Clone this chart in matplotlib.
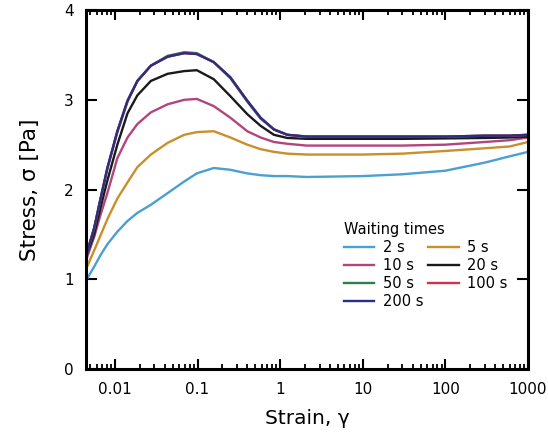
import matplotlib
matplotlib.use("Agg")
import matplotlib.pyplot as plt
from matplotlib.ticker import LogLocator, FixedLocator, FixedFormatter, NullFormatter

plt.rcParams["font.family"] = ["DejaVu Sans"]

# Strain values (shared grid) and stress for each waiting time
strain = [0.0045, 0.0056, 0.0067, 0.0081, 0.0107, 0.0142, 0.0187, 0.0272,
          0.0434, 0.069, 0.098, 0.157, 0.25, 0.40, 0.58, 0.84, 1.22, 2.1,
          10, 30, 100, 300, 600, 1000]

stress_2s = [0.99, 1.14, 1.27, 1.39, 1.53, 1.65, 1.74, 1.83, 1.96, 2.09, 2.18,
             2.24, 2.22, 2.18, 2.16, 2.15, 2.15, 2.14, 2.15, 2.17, 2.21, 2.30,
             2.37, 2.42]
stress_5s = [1.12, 1.32, 1.49, 1.67, 1.90, 2.08, 2.25, 2.39, 2.52, 2.61, 2.64,
             2.65, 2.58, 2.50, 2.45, 2.42, 2.40, 2.39, 2.39, 2.40, 2.43, 2.46,
             2.48, 2.53]
stress_10s = [1.22, 1.47, 1.72, 1.96, 2.35, 2.58, 2.73, 2.86, 2.95, 3.00, 3.01,
              2.93, 2.80, 2.65, 2.58, 2.53, 2.51, 2.49, 2.49, 2.49, 2.50, 2.53,
              2.55, 2.58]
stress_20s = [1.26, 1.50, 1.80, 2.10, 2.50, 2.85, 3.05, 3.21, 3.29, 3.32, 3.33,
              3.23, 3.04, 2.84, 2.71, 2.61, 2.575, 2.565, 2.565, 2.565, 2.57,
              2.575, 2.58, 2.59]
stress_50s = [1.27, 1.56, 1.89, 2.23, 2.64, 2.98, 3.21, 3.38, 3.49, 3.53, 3.52,
              3.42, 3.24, 2.98, 2.79, 2.67, 2.61, 2.59, 2.59, 2.59, 2.59, 2.60,
              2.60, 2.61]
stress_100s = [1.28, 1.57, 1.90, 2.24, 2.65, 2.99, 3.21, 3.38, 3.48, 3.52,
               3.51, 3.42, 3.25, 2.99, 2.80, 2.67, 2.61, 2.59, 2.59, 2.59, 2.59,
               2.60, 2.60, 2.61]
stress_200s = [1.27, 1.57, 1.90, 2.24, 2.65, 2.99, 3.21, 3.38, 3.48, 3.52,
               3.51, 3.42, 3.25, 2.99, 2.80, 2.67, 2.61, 2.59, 2.59, 2.59, 2.59,
               2.60, 2.60, 2.61]

labels = ["2 s", "5 s", "10 s", "20 s", "50 s", "100 s", "200 s"]
series = [stress_2s, stress_5s, stress_10s, stress_20s, stress_50s,
          stress_100s, stress_200s]
colors = ["#4a9fd4", "#c98f2c", "#b2457e", "#1a1a1a", "#2f7d52",
          "#d3304c", "#2b2f82"]

x_ticks = [0.01, 0.1, 1, 10, 100, 1000]
x_ticklabels = ["0.01", "0.1", "1", "10", "100", "1000"]
y_ticks = [0, 1, 2, 3, 4]

fig = plt.figure(figsize=(5.48, 4.38), dpi=100)
ax = fig.add_axes([0.157, 0.1575, 0.8065, 0.8195])

handles = {}
for lab, ys, c in zip(labels, series, colors):
    (h,) = ax.plot(strain, ys, color=c, lw=1.7, label=lab)
    handles[lab] = h

ax.set_xscale("log")
ax.set_xlim(0.00447, 1000)
ax.set_ylim(0, 4)

ax.xaxis.set_major_locator(FixedLocator(x_ticks))
ax.xaxis.set_major_formatter(FixedFormatter(x_ticklabels))
ax.xaxis.set_minor_locator(LogLocator(base=10, subs=range(2, 10), numticks=20))
ax.xaxis.set_minor_formatter(NullFormatter())
ax.set_yticks(y_ticks)
ax.set_yticklabels([str(v) for v in y_ticks])

for sp in ax.spines.values():
    sp.set_linewidth(2.2)
ax.tick_params(axis="x", which="major", direction="in", length=7, width=1.5,
               top=True, labelsize=11, pad=9)
ax.tick_params(axis="x", which="minor", direction="in", length=3.5, width=1.3,
               top=True)
ax.tick_params(axis="y", which="major", direction="in", length=8, width=1.5,
               right=True, labelsize=11, pad=9)

ax.set_xlabel("Strain, γ", fontsize=14.5, labelpad=9)
ax.set_ylabel("Stress, σ [Pa]", fontsize=15.5, labelpad=17)

order = ["2 s", "10 s", "50 s", "200 s", "5 s", "20 s", "100 s"]
leg = ax.legend([handles[k] for k in order], order, title="Waiting times",
                ncol=2, frameon=False, fontsize=10.5, title_fontsize=10.5,
                loc="upper left", bbox_to_anchor=(0.56, 0.437),
                handlelength=2.1, handletextpad=0.6, columnspacing=0.3,
                labelspacing=0.2, borderpad=0.2, alignment="left")

fig.savefig("out.png", dpi=100)
